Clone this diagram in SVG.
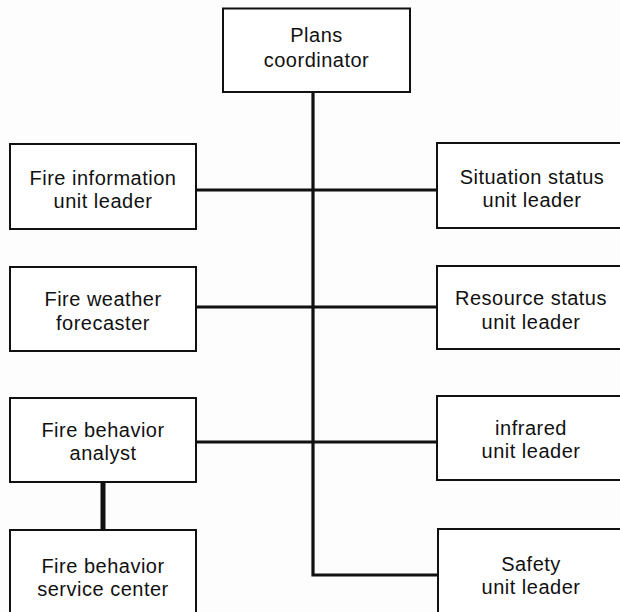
<svg xmlns="http://www.w3.org/2000/svg" width="620" height="612" viewBox="0 0 620 612">
<style>
.box{fill:#fff;stroke:#111;stroke-width:2}
.t{font-family:"Liberation Sans",Arial,Helvetica,sans-serif;font-size:20px;letter-spacing:0.5px;fill:#111;text-anchor:middle}
.c{fill:none;stroke:#111;stroke-width:3.2;stroke-linecap:square}
</style>
<rect width="620" height="612" fill="#fdfdfd"/>
<g id="connectors">
<path class="c" d="M313 92 V575 H437"/>
<path class="c" d="M196 190 H437"/>
<path class="c" d="M196 307 H437"/>
<path class="c" d="M196 442 H437"/>
<path class="c" d="M103 482 V530" style="stroke-width:5"/>
</g>
<g id="plans-coordinator">
<rect class="box" x="223" y="8.5" width="187" height="83.5"/>
<text class="t" x="316.5" y="42">Plans</text>
<text class="t" x="316.5" y="67">coordinator</text>
</g>
<g id="fire-information">
<rect class="box" x="10" y="144" width="186" height="85"/>
<text class="t" x="103" y="184.5">Fire information</text>
<text class="t" x="103" y="207.5">unit leader</text>
</g>
<g id="situation-status">
<rect class="box" x="437" y="143" width="190" height="85"/>
<text class="t" x="532" y="184">Situation status</text>
<text class="t" x="532" y="207">unit leader</text>
</g>
<g id="fire-weather">
<rect class="box" x="10" y="267" width="186" height="84"/>
<text class="t" x="103" y="306">Fire weather</text>
<text class="t" x="103" y="329.5">forecaster</text>
</g>
<g id="resource-status">
<rect class="box" x="437" y="266" width="190" height="83"/>
<text class="t" x="531" y="305">Resource status</text>
<text class="t" x="531" y="328.5">unit leader</text>
</g>
<g id="fire-behavior-analyst">
<rect class="box" x="10" y="398" width="186" height="84"/>
<text class="t" x="103" y="437">Fire behavior</text>
<text class="t" x="103" y="460">analyst</text>
</g>
<g id="infrared">
<rect class="box" x="437" y="396" width="190" height="84"/>
<text class="t" x="531" y="435">infrared</text>
<text class="t" x="531" y="458">unit leader</text>
</g>
<g id="fire-behavior-service-center">
<rect class="box" x="10" y="530" width="186" height="86"/>
<text class="t" x="103" y="573">Fire behavior</text>
<text class="t" x="103" y="596">service center</text>
</g>
<g id="safety">
<rect class="box" x="438" y="529" width="190" height="87"/>
<text class="t" x="531" y="571">Safety</text>
<text class="t" x="531" y="594">unit leader</text>
</g>
</svg>
